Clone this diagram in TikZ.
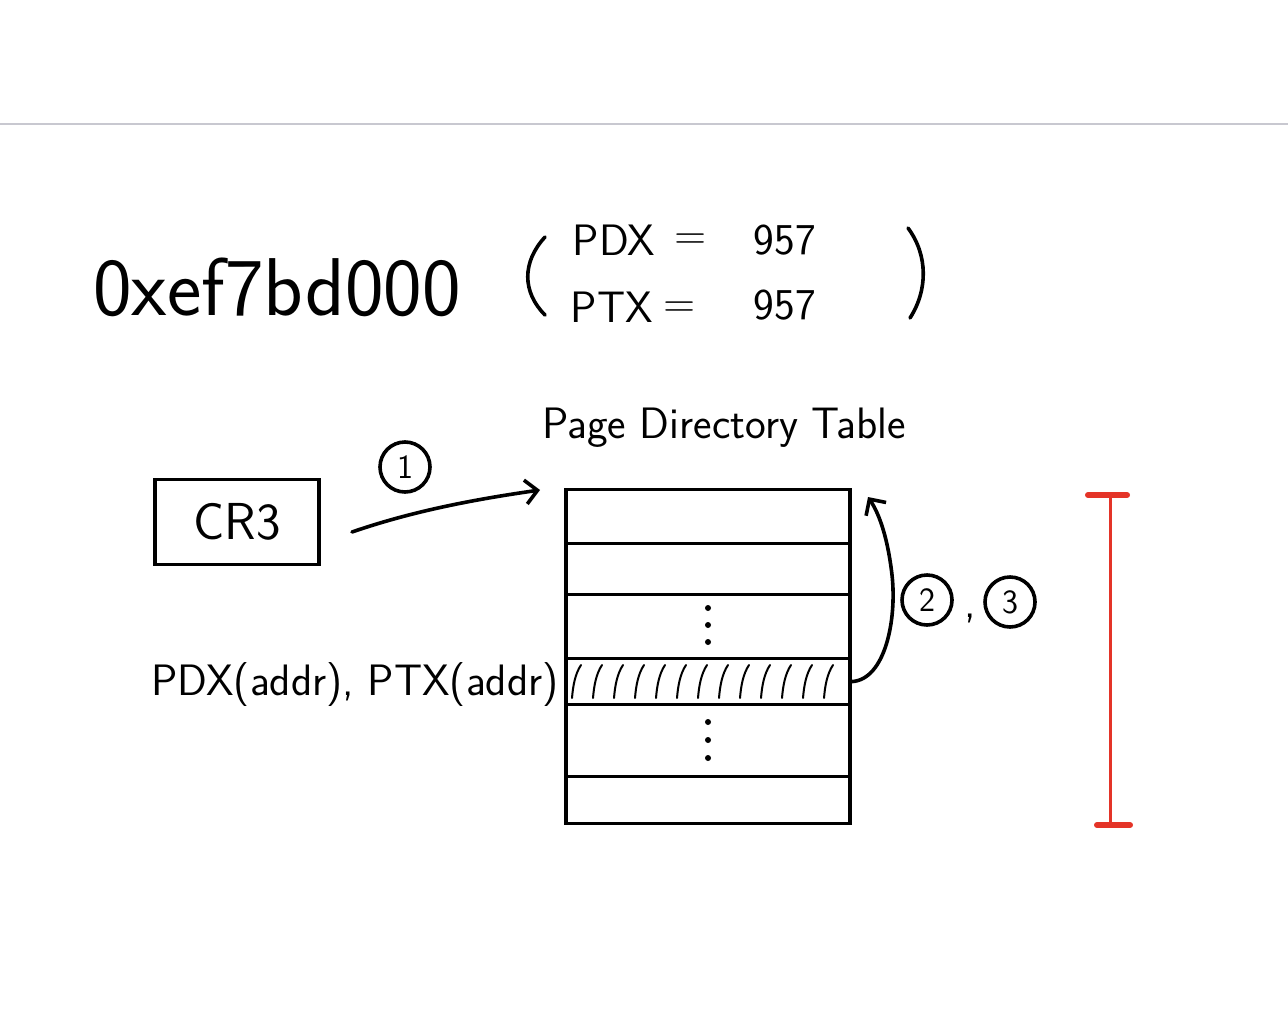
\documentclass[tikz,border=0pt]{standalone}
\usepackage{tikz}
\usetikzlibrary{positioning, calc, arrows.meta}
\definecolor{rosso}{RGB}{228,52,40}
\definecolor{grigio}{RGB}{200,200,208}

\begin{document}
\begin{tikzpicture}[x=0.5pt, y=-0.5pt,
    linea/.style={line width=1.8pt, line cap=round},
    freccia/.style={linea, -{Straight Barb[length=6pt, width=12pt, line width=1.8pt]}},
    cella/.style={draw, line width=1.6pt, minimum width=142pt, inner sep=0pt, anchor=north},
    cerchio/.style={draw, circle, line width=1.8pt, inner sep=0pt, minimum size=25pt, font=\sffamily\fontsize{17}{17}\selectfont},
    testo/.style={inner sep=0pt, font=\sffamily\fontsize{22}{24}\selectfont}]
        \useasboundingbox (0,0) rectangle (1288,1022);
        %riga grigia in alto
        \draw[grigio, line width=1pt] (0,124) -- (1288,124);
        %indirizzo e indici
        \node[testo, font=\sffamily\fontsize{41}{43}\selectfont] (addr) at (277,287) {0xef7bd000};
        \draw[linea] (545,237) .. controls (522,262) and (522,292) .. (545,315);
        \node[testo] (pdx) at (614,240) {PDX};
        \node[testo] (eq1) at (691,242) {=};
        \node[testo] (v1) at (785,240) {957};
        \node[testo] (ptx) at (612,307) {PTX};
        \node[testo] (eq2) at (680,310) {=};
        \node[testo] (v2) at (785,305) {957};
        \draw[linea] (908,228) .. controls (928,255) and (928,290) .. (910,318);
        %registro
        \node[draw, line width=1.6pt, minimum width=82pt, minimum height=42.5pt, font=\sffamily\fontsize{26}{28}\selectfont] (cr3) at (237,522) {CR3};
        %tabella
        \node[testo] (pdt) at (724,428) {Page Directory Table};
        \foreach \n/\t/\b in {1/488/542, 2/542/593, 3/593/657, 4/657/703, 5/703/775, 6/775/822}
            \node[cella, minimum height={(\b-\t)*0.5pt}] (riga\n) at (708,\t) {};
        %riga tratteggiata
        \foreach \x in {572,593,...,835}
            \draw[line width=1pt, line cap=round] (\x,698) .. controls (\x+1,686) and (\x+3,674) .. (\x+9,665);
        %puntini
        \foreach \y in {608,625,642,722,740,758}
            \fill (708,\y) circle (1.5pt);
        \node[testo] (idx) at (355,685) {PDX(addr), PTX(addr)};
        %frecce
        \coordinate (da) at (352,532);
        \coordinate (a) at (540,490);
        \draw[freccia] (da) .. controls (410,512) and (470,500) .. (a);
        \node[cerchio] (uno) at (405,467) {1};
        \coordinate (su) at (868,497);
        \draw[freccia] (riga4.east) .. controls (885,680) and (897,620) .. (892,575) .. controls (888,540) and (880,515) .. (su);
        \node[cerchio] (due) at (927,600) {2};
        \node[testo] (virg) at (970,618) {,};
        \node[cerchio] (tre) at (1010,602) {3};
        %barra rossa
        \draw[rosso, line width=1.5pt] (1110,495) -- (1110,825);
        \draw[rosso, line width=3pt, line cap=round] (1088,495) -- (1127,495);
        \draw[rosso, line width=3pt, line cap=round] (1097,825) -- (1130,825);
\end{tikzpicture}
\end{document}
